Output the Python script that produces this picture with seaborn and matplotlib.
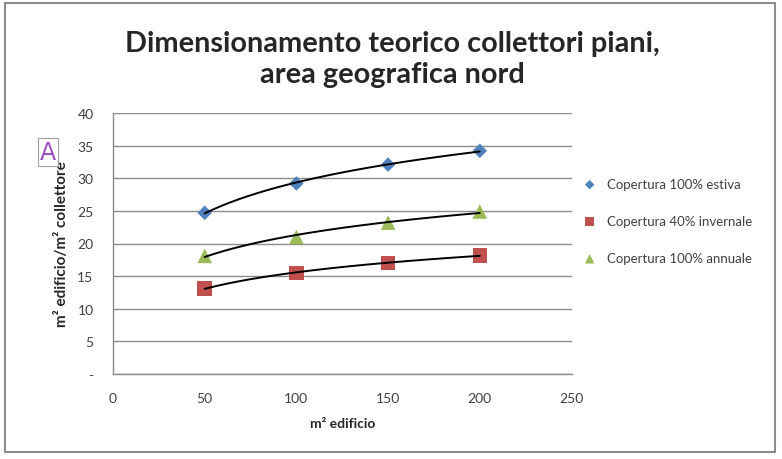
import numpy as np
import pandas as pd
import matplotlib
matplotlib.use("Agg")
import matplotlib.pyplot as plt
import seaborn as sns
from matplotlib.patches import Rectangle

# dati
edificio = [50, 100, 150, 200]
estiva = [24.7, 29.2, 32.1, 34.2]
invernale = [13.1, 15.5, 17.0, 18.2]
annuale = [18.1, 21.0, 23.2, 24.9]
serie = ["Copertura 100% estiva", "Copertura 40% invernale", "Copertura 100% annuale"]
colori = ["#4F81BD", "#C0504D", "#9BBB59"]
marker = ["D", "s", "^"]
dimensioni = [55, 110, 110]
y_ticks = [0, 5, 10, 15, 20, 25, 30, 35, 40]
y_labels = ["-", "5", "10", "15", "20", "25", "30", "35", "40"]
x_ticks = [0, 50, 100, 150, 200, 250]

sns.set_style("white")
plt.rcParams["font.family"] = ["Lato", "DejaVu Sans"]

df = pd.DataFrame({
    "x": edificio * 3,
    "y": estiva + invernale + annuale,
    "serie": [s for s in serie for _ in edificio],
})

fig = plt.figure(figsize=(7.82, 4.6), dpi=100)
ax = fig.add_axes([113 / 782, 1 - 375 / 460, 458.5 / 782, 261 / 460])

for nome, col, mk, sz in zip(serie, colori, marker, dimensioni):
    sub = df[df.serie == nome]
    sns.scatterplot(data=sub, x="x", y="y", color=col, marker=mk, s=sz,
                    edgecolor="none", label=nome, ax=ax, zorder=3)
    # linea di tendenza logaritmica
    a, b = np.polyfit(np.log(sub.x), sub.y, 1)
    xx = np.linspace(50, 200, 100)
    ax.plot(xx, a * np.log(xx) + b, color="black", lw=1.4, zorder=4)

ax.set_xlim(0, 250)
ax.set_ylim(0, 40)
ax.set_xticks(x_ticks)
ax.set_yticks(y_ticks)
ax.set_yticklabels(y_labels)
ax.tick_params(axis="both", length=0, labelsize=10, labelcolor="#404040")
ax.tick_params(axis="y", pad=14)
ax.tick_params(axis="x", pad=13)
ax.grid(axis="y", color="#8c8c8c", lw=1)
ax.set_axisbelow(True)
for s in ["top", "right"]:
    ax.spines[s].set_visible(False)
for s in ["left", "bottom"]:
    ax.spines[s].set_color("#8c8c8c")
    ax.spines[s].set_linewidth(1)

ax.set_xlabel("m² edificio", fontsize=10, fontweight="bold", labelpad=9)
ax.set_ylabel("m² edificio/m² collettore", fontsize=11, fontweight="bold", labelpad=6)

ax.legend_.remove()
h, l = ax.get_legend_handles_labels()
fig.legend(h[:3], l[:3], loc="center left", bbox_to_anchor=(0.722, 0.517),
           frameon=False, fontsize=9.5, labelspacing=1.9, handletextpad=0.3,
           markerscale=0.65, labelcolor="#404040")

fig.suptitle("Dimensionamento teorico collettori piani,\narea geografica nord",
             x=0.502, y=0.932, fontsize=20.8, fontweight="bold", linespacing=1.22)

# riquadro esterno
fig.patches.append(Rectangle((5 / 782, 1 - 453 / 460), 770 / 782, 449 / 460,
                             transform=fig.transFigure, fill=False,
                             edgecolor="#8c8c8c", lw=1.5))
# etichetta "A"
fig.text(48 / 782, 1 - 153 / 460, "A", fontsize=17, color="#9b4fc0",
         ha="center", va="center", family="DejaVu Sans", zorder=10,
         bbox=dict(boxstyle="square,pad=0.08", fc="white", ec="#a0a0a0", lw=0.8))

fig.savefig("out.png", dpi=100)
